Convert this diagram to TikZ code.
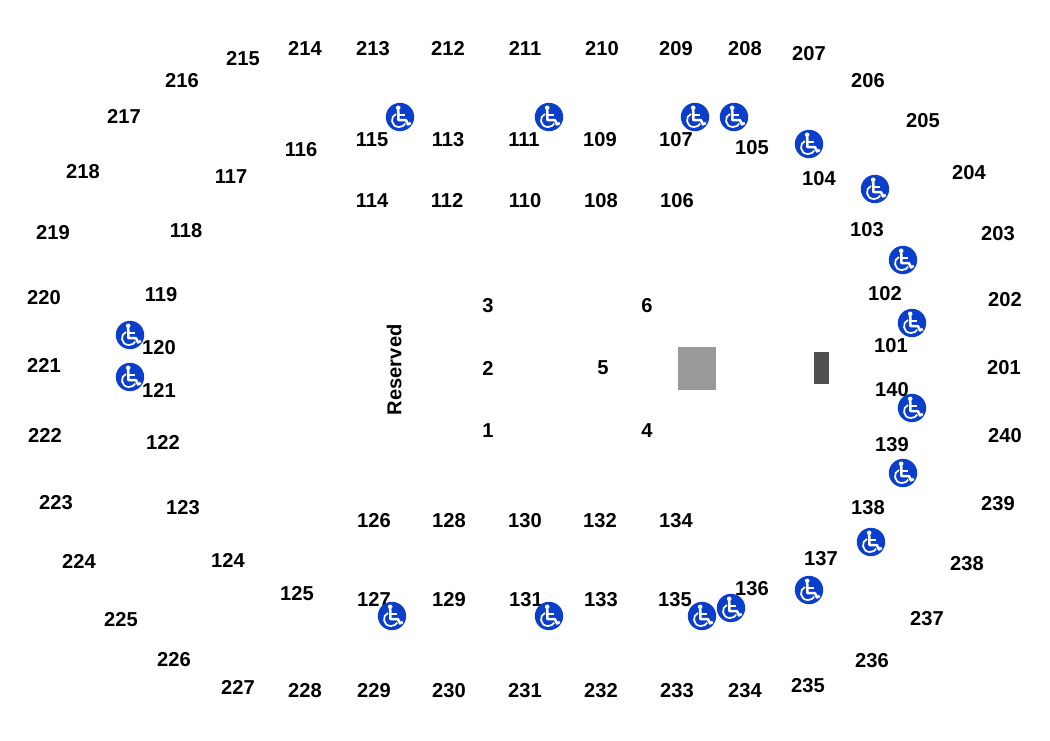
\documentclass[tikz,border=0pt]{standalone}
\usepackage{fontspec}
\setmainfont{Liberation Sans}
\tikzset{
  seat/.style={font=\bfseries\fontsize{15.1}{16}\selectfont,text=black,inner sep=0pt,yshift=-0.6pt},
  rowlabel/.style={font=\bfseries\fontsize{15.1}{16}\selectfont,text=black,inner sep=0pt},
  wheelchair/.pic={
    \fill [wheelblue] (0,0) circle (14.2);
    \fill [white] (-1.8,9.2) circle (2.3);
    \draw [white,line width=1.9pt,line join=round] (-1.8,6.8) -- (-1.5,-3.2) -- (6,-3.2) -- (8,-7.4) -- (10.8,-6);
    \draw [white,line width=1.3pt] (-1.8,2.3) -- (5,2.3);
    \draw [white,line width=1.3pt] (-4,3) .. controls (-10,1) and (-9.5,-10) .. (-1,-10) .. controls (2,-10) and (4.5,-8.5) .. (5.2,-6.5);
  }
}
\definecolor{wheelblue}{HTML}{0B3FCB}
\begin{document}
\begin{tikzpicture}[x=0.75pt,y=0.75pt,yscale=-1,xscale=1]
\useasboundingbox (0,0) rectangle (1050,740);

%Shape: Rectangle
\fill [fill={rgb,255:red,153;green,153;blue,153}] (678,347) rectangle (715.5,390);
%Shape: Rectangle
\fill [fill={rgb,255:red,80;green,80;blue,80}] (813.5,352) rectangle (829,384);

% Outer ring
\node (s215) [seat] at (243,58) {215};
\node (s214) [seat] at (305,48) {214};
\node (s213) [seat] at (373,48) {213};
\node (s212) [seat] at (448,48) {212};
\node (s211) [seat] at (525,48) {211};
\node (s210) [seat] at (602,48) {210};
\node (s209) [seat] at (676,48) {209};
\node (s208) [seat] at (745,48) {208};
\node (s207) [seat] at (809,53) {207};
\node (s206) [seat] at (868,80) {206};
\node (s205) [seat] at (923,120) {205};
\node (s204) [seat] at (969,172) {204};
\node (s203) [seat] at (998,233) {203};
\node (s202) [seat] at (1005,299) {202};
\node (s201) [seat] at (1004,367) {201};
\node (s240) [seat] at (1005,435) {240};
\node (s239) [seat] at (998,503) {239};
\node (s238) [seat] at (967,563) {238};
\node (s237) [seat] at (927,618) {237};
\node (s236) [seat] at (872,660) {236};
\node (s235) [seat] at (808,685) {235};
\node (s234) [seat] at (745,690) {234};
\node (s233) [seat] at (677,690) {233};
\node (s232) [seat] at (601,690) {232};
\node (s231) [seat] at (525,690) {231};
\node (s230) [seat] at (449,690) {230};
\node (s229) [seat] at (374,690) {229};
\node (s228) [seat] at (305,690) {228};
\node (s227) [seat] at (238,687) {227};
\node (s226) [seat] at (174,659) {226};
\node (s225) [seat] at (121,619) {225};
\node (s224) [seat] at (79,561) {224};
\node (s223) [seat] at (56,502) {223};
\node (s222) [seat] at (45,435) {222};
\node (s221) [seat] at (44,365) {221};
\node (s220) [seat] at (44,297) {220};
\node (s219) [seat] at (53,232) {219};
\node (s218) [seat] at (83,171) {218};
\node (s217) [seat] at (124,116) {217};
\node (s216) [seat] at (182,80) {216};

% Inner ring
\node (s115) [seat] at (372,139) {115};
\node (s113) [seat] at (448,139) {113};
\node (s111) [seat] at (524,139) {111};
\node (s109) [seat] at (600,139) {109};
\node (s107) [seat] at (676,139) {107};
\node (s105) [seat] at (752,147) {105};
\node (s104) [seat] at (819,178) {104};
\node (s103) [seat] at (867,229) {103};
\node (s102) [seat] at (885,293) {102};
\node (s101) [seat] at (891,345) {101};
\node (s140) [seat] at (892,389) {140};
\node (s139) [seat] at (892,444) {139};
\node (s138) [seat] at (868,507) {138};
\node (s137) [seat] at (821,558) {137};
\node (s136) [seat] at (752,588) {136};
\node (s135) [seat] at (675,599) {135};
\node (s133) [seat] at (601,599) {133};
\node (s131) [seat] at (526,599) {131};
\node (s129) [seat] at (449,599) {129};
\node (s127) [seat] at (374,599) {127};
\node (s125) [seat] at (297,593) {125};
\node (s124) [seat] at (228,560) {124};
\node (s123) [seat] at (183,507) {123};
\node (s122) [seat] at (163,442) {122};
\node (s121) [seat] at (159,390) {121};
\node (s120) [seat] at (159,347) {120};
\node (s119) [seat] at (161,294) {119};
\node (s118) [seat] at (186,230) {118};
\node (s117) [seat] at (231,176) {117};
\node (s116) [seat] at (301,149) {116};

% Floor rows
\node (s114) [seat] at (372,200) {114};
\node (s112) [seat] at (447,200) {112};
\node (s110) [seat] at (525,200) {110};
\node (s108) [seat] at (601,200) {108};
\node (s106) [seat] at (677,200) {106};
\node (s126) [seat] at (374,520) {126};
\node (s128) [seat] at (449,520) {128};
\node (s130) [seat] at (525,520) {130};
\node (s132) [seat] at (600,520) {132};
\node (s134) [seat] at (676,520) {134};

% Centre
\node (r1) [rowlabel] at (488,431) {1};
\node (r2) [rowlabel] at (488,368) {2};
\node (r3) [rowlabel] at (488,306) {3};
\node (r4) [rowlabel] at (647,431) {4};
\node (r5) [rowlabel] at (603,368) {5};
\node (r6) [rowlabel] at (647,306) {6};
\node (reserved) [seat,rotate=90,yshift=0.6pt] at (395,369) {Reserved};

% Accessible seating
\pic at (400,117) {wheelchair};
\pic at (549,117) {wheelchair};
\pic at (695,117) {wheelchair};
\pic at (734,117) {wheelchair};
\pic at (809,144) {wheelchair};
\pic at (875,189) {wheelchair};
\pic at (903,260) {wheelchair};
\pic at (912,323) {wheelchair};
\pic at (912,408) {wheelchair};
\pic at (903,473) {wheelchair};
\pic at (871,542) {wheelchair};
\pic at (809,590) {wheelchair};
\pic at (731,608) {wheelchair};
\pic at (702,616) {wheelchair};
\pic at (549,616) {wheelchair};
\pic at (392,616) {wheelchair};
\pic at (130,335) {wheelchair};
\pic at (130,377) {wheelchair};
\end{tikzpicture}
\end{document}
